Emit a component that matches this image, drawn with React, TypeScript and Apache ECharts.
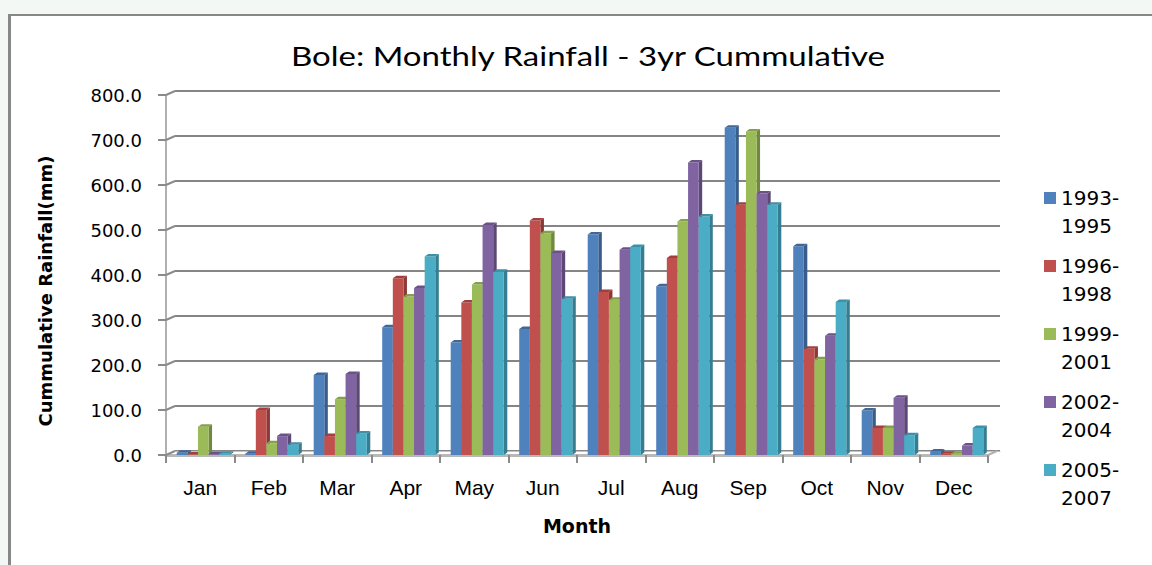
import React, { useEffect, useRef } from 'react';
import * as echarts from 'echarts';

const months = ['Jan', 'Feb', 'Mar', 'Apr', 'May', 'Jun', 'Jul', 'Aug', 'Sep', 'Oct', 'Nov', 'Dec'];
const seriesNames = ['1993-1995', '1996-1998', '1999-2001', '2002-2004', '2005-2007'];
const rain1993_1995 = [5, 3, 178, 284, 250, 280, 490, 375, 727, 464, 99, 8];
const rain1996_1998 = [1, 100, 42, 393, 339, 521, 362, 438, 556, 236, 60, 3];
const rain1999_2001 = [63, 26, 124, 352, 379, 493, 345, 519, 719, 213, 60, 3];
const rain2002_2004 = [2, 42, 180, 371, 511, 449, 456, 650, 581, 265, 127, 21];
const rain2005_2007 = [3, 23, 48, 441, 407, 347, 462, 530, 556, 340, 44, 60];
const allSeries = [rain1993_1995, rain1996_1998, rain1999_2001, rain2002_2004, rain2005_2007];
const yTicks = [0, 100, 200, 300, 400, 500, 600, 700, 800];

const titleText = 'Bole: Monthly Rainfall - 3yr Cummulative';
const yTitleText = 'Cummulative Rainfall(mm)';
const xTitleText = 'Month';

const colors = ['#4f81bd', '#c0504d', '#9bbb59', '#8064a2', '#4bacc6'];
const sideColors = ['#385d8a', '#8c3836', '#71893f', '#5c4776', '#357d91'];
const topColors = ['#3f6798', '#a03f3c', '#84a04a', '#6a5289', '#3d90a6'];

const makeBarRender = (i: number) => (params: any, api: any) => {
  const cat = api.value(0);
  const val = api.value(1);
  const base = api.coord([cat, 0]);
  const top = api.coord([cat, val]);
  const band = api.size([1, 0])[0];
  const w = band * 0.155;
  const x0 = base[0] - 2.5 * w + 3 + i * w;
  const dx = 3.5;
  const dy = 2.5;
  const yb = base[1];
  const yt = top[1];
  return {
    type: 'group',
    children: [
      {
        type: 'polygon',
        shape: { points: [[x0 + w, yt], [x0 + w + dx, yt - dy], [x0 + w + dx, yb - dy], [x0 + w, yb]] },
        style: { fill: sideColors[i] },
      },
      {
        type: 'rect',
        shape: { x: x0, y: yt, width: w, height: yb - yt },
        style: { fill: colors[i] },
      },
      {
        type: 'polygon',
        shape: { points: [[x0, yt], [x0 + dx, yt - dy], [x0 + w + dx, yt - dy], [x0 + w, yt]] },
        style: { fill: topColors[i] },
      },
    ],
  };
};

const wallRender = (params: any, api: any) => {
  const v = api.value(1);
  const p = api.coord([0, v]);
  const band = api.size([1, 0])[0];
  const xL = p[0] - band / 2;
  const children: any[] = [
    { type: 'line', shape: { x1: xL, y1: p[1], x2: xL + 9, y2: p[1] - 4 }, style: { stroke: '#8a8a8a', lineWidth: 2 } },
  ];
  if (v === 0) {
    const q = api.coord([months.length - 1, 0]);
    const xR = q[0] + band / 2;
    children.push({ type: 'line', shape: { x1: xR, y1: q[1], x2: xR + 9, y2: q[1] - 4 }, style: { stroke: '#b0b0b0', lineWidth: 2 } });
  }
  return { type: 'group', children };
};

export default function App() {
  const ref = useRef<HTMLDivElement>(null);
  useEffect(() => {
    if (!ref.current) return;
    const chart = echarts.init(ref.current, null, { renderer: 'svg' });
    const option: any = {
      animation: false,
      backgroundColor: 'transparent',
      grid: [
        { left: 166, top: 95, width: 822, height: 360 },
        { left: 175, top: 91, width: 825, height: 360 },
      ],
      xAxis: [
        {
          type: 'category', gridIndex: 0, data: months,
          axisLine: { show: true, lineStyle: { color: '#b8b8b8', width: 3 } },
          axisTick: { show: true, length: 8, interval: 0, lineStyle: { color: '#8a8a8a', width: 2 } },
          axisLabel: { interval: 0, margin: 22, color: '#000', fontFamily: 'Liberation Sans', fontSize: 21 },
          splitLine: { show: false },
        },
        {
          type: 'category', gridIndex: 1, data: months,
          axisLine: { show: true, lineStyle: { color: '#c4c4c4', width: 1 } },
          axisTick: { show: false }, axisLabel: { show: false }, splitLine: { show: false },
        },
      ],
      yAxis: [
        {
          type: 'value', gridIndex: 0, min: 0, max: 800, interval: 100,
          axisLine: { show: true, lineStyle: { color: '#b0b0b0', width: 2 } },
          axisTick: { show: true, length: 8, lineStyle: { color: '#8a8a8a', width: 2 } },
          axisLabel: { margin: 24, color: '#000', fontFamily: 'DejaVu Sans', fontSize: 18, formatter: (v: number) => v.toFixed(1) },
          splitLine: { show: false },
        },
        {
          type: 'value', gridIndex: 1, min: 0, max: 800, interval: 100,
          axisLine: { show: false }, axisTick: { show: false }, axisLabel: { show: false },
          splitLine: { show: true, lineStyle: { color: '#858585', width: 2 } },
        },
      ],
      legend: {
        data: seriesNames,
        orient: 'vertical',
        left: 1044,
        top: 156,
        padding: 0,
        icon: 'rect',
        itemWidth: 12,
        itemHeight: 12,
        itemGap: -16,
        formatter: (name: string) => '\n' + name.replace('-', '-\n'),
        textStyle: { fontFamily: 'DejaVu Sans', fontSize: 20, lineHeight: 28, color: '#000' },
      },
      graphic: [
        { type: 'text', x: 588, y: 56, scaleX: 1.27, style: { text: titleText, font: '26px Lato', fill: '#000', align: 'center', verticalAlign: 'middle' } },
        { type: 'text', x: 45, y: 291, rotation: Math.PI / 2, style: { text: yTitleText, font: 'bold 18px "DejaVu Sans"', fill: '#000', align: 'center', verticalAlign: 'middle' } },
        { type: 'text', x: 577, y: 526, style: { text: xTitleText, font: 'bold 19px "DejaVu Sans"', fill: '#000', align: 'center', verticalAlign: 'middle' } },
      ],
      series: [
        {
          type: 'custom', xAxisIndex: 0, yAxisIndex: 0, silent: true, z: 1,
          data: yTicks.map((v) => [0, v]),
          renderItem: wallRender,
        },
        ...allSeries.map((vals, i) => ({
          type: 'custom',
          name: seriesNames[i],
          xAxisIndex: 0,
          yAxisIndex: 0,
          itemStyle: { color: colors[i] },
          data: vals.map((v, k) => [k, v]),
          renderItem: makeBarRender(i),
        })),
      ],
    };
    chart.setOption(option);
    return () => chart.dispose();
  }, []);
  return (
    <div style={{ position: 'fixed', left: 0, top: 0, width: 1152, height: 565, background: '#f3f8f4', overflow: 'hidden' }}>
      <div style={{ position: 'absolute', left: 8, top: 14, right: 0, bottom: 0, background: '#fff', borderLeft: '3px solid #878787', borderTop: '2px solid #878787' }} />
      <div ref={ref} style={{ position: 'absolute', left: 0, top: 0, width: 1152, height: 565 }} />
    </div>
  );
}
